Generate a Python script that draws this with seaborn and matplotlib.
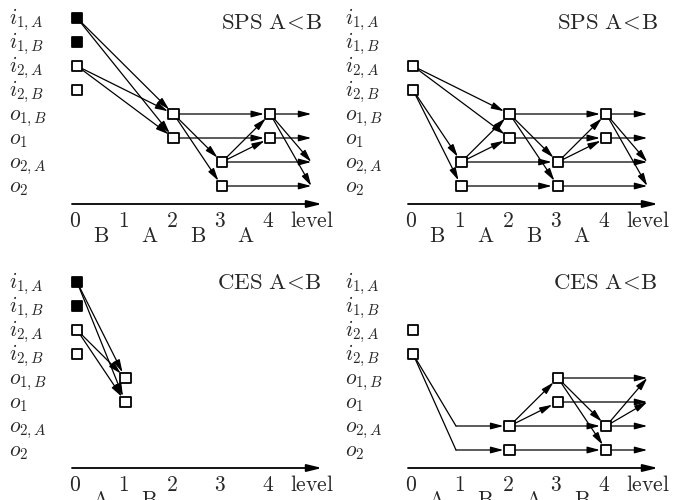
import pandas as pd
import matplotlib
matplotlib.use("Agg")
import matplotlib.pyplot as plt
import seaborn as sns

# -----------------------------
# Style Settings
sns.set_style("white")
plt.rcParams['mathtext.fontset'] = 'cm'

# -----------------------------
# Diagram data (level, row); rows counted from the top
row_labels = [r"i_{1,A}", r"i_{1,B}", r"i_{2,A}", r"i_{2,B}",
              r"o_{1,B}", r"o_1", r"o_{2,A}", r"o_2"]
END = 4.85  # open arrow ends right of level 4

titles = ["SPS", "SPS", "CES", "CES"]
step_letters = [["B", "A", "B", "A"],
                ["B", "A", "B", "A"],
                ["A", "B", "", ""],
                ["A", "B", "A", "B"]]

nodes_tl = [(0, 0, 1), (0, 1, 1), (0, 2, 0), (0, 3, 0), (2, 4, 0), (2, 5, 0),
            (3, 6, 0), (3, 7, 0), (4, 4, 0), (4, 5, 0)]
edges_tl = [((0, 0), (2, 4)), ((0, 0), (2, 5)), ((0, 2), (2, 4)), ((0, 2), (2, 5)),
            ((2, 4), (4, 4)), ((2, 4), (3, 6)), ((2, 4), (3, 7)), ((2, 5), (4, 5)),
            ((3, 6), (4, 4)), ((3, 6), (4, 5)), ((3, 6), (END, 6)), ((3, 7), (END, 7)),
            ((4, 4), (END, 4)), ((4, 4), (END, 6)), ((4, 4), (END, 7)), ((4, 5), (END, 5))]

nodes_tr = [(0, 2, 0), (0, 3, 0), (1, 6, 0), (1, 7, 0), (2, 4, 0), (2, 5, 0),
            (3, 6, 0), (3, 7, 0), (4, 4, 0), (4, 5, 0)]
edges_tr = [((0, 2), (2, 4)), ((0, 2), (2, 5)), ((0, 3), (1, 6)), ((0, 3), (1, 7)),
            ((1, 6), (2, 4)), ((1, 6), (2, 5)), ((1, 6), (3, 6)), ((1, 7), (3, 7)),
            ((2, 4), (4, 4)), ((2, 4), (3, 6)), ((2, 4), (3, 7)), ((2, 5), (4, 5)),
            ((3, 6), (4, 4)), ((3, 6), (4, 5)), ((3, 6), (END, 6)), ((3, 7), (END, 7)),
            ((4, 4), (END, 4)), ((4, 4), (END, 6)), ((4, 4), (END, 7)), ((4, 5), (END, 5))]

nodes_bl = [(0, 0, 1), (0, 1, 1), (0, 2, 0), (0, 3, 0), (1, 4, 0), (1, 5, 0)]
edges_bl = [((0, 0), (1, 4)), ((0, 0), (1, 5)), ((0, 2), (1, 4)), ((0, 2), (1, 5))]

nodes_br = [(0, 2, 0), (0, 3, 0), (2, 6, 0), (2, 7, 0), (3, 4, 0), (3, 5, 0),
            (4, 6, 0), (4, 7, 0)]
bends_br = [((0, 3), (0.89, 6)), ((0, 3), (0.89, 7))]
edges_br = [((0.89, 6), (2, 6)), ((0.89, 7), (2, 7)),
            ((2, 6), (3, 4)), ((2, 6), (3, 5)), ((2, 6), (4, 6)), ((2, 7), (4, 7)),
            ((3, 4), (END, 4)), ((3, 4), (4, 6)), ((3, 4), (4, 7)), ((3, 5), (END, 5)),
            ((4, 6), (END, 4)), ((4, 6), (END, 5)), ((4, 6), (END, 6)), ((4, 7), (END, 7))]

panels = [(nodes_tl, edges_tl, []), (nodes_tr, edges_tr, []),
          (nodes_bl, edges_bl, []), (nodes_br, edges_br, bends_br)]
title_rows = [0.42, 0.42, 0.29, 0.29]

# -----------------------------
# Figure: four panels, 673x500 px
W, H = 673, 500
fig = plt.figure(figsize=(W / 100, H / 100), dpi=100)
origins = [(0, 0), (336, 0), (0, 264), (336, 264)]
PW, PH = 336, 250
X0, DX, Y0, DY = 77, 48.3, 18, 24

for k, (ox, oy) in enumerate(origins):
    nodes, edges, bends = panels[k]
    ax = fig.add_axes([ox / W, 1 - (oy + PH) / H, PW / W, PH / H])
    ax.set_xlim(-X0 / DX, (PW - X0) / DX)
    ax.set_ylim((PH - Y0) / DY, -Y0 / DY)
    ax.axis("off")

    # row labels
    for r, lab in enumerate(row_labels):
        ax.text((9 - X0) / DX, r + 0.25, "$" + lab + "$", fontsize=15.5,
                ha="left", va="baseline")

    # level axis with arrow
    ax.annotate("", xy=(5.072, 7.75), xytext=(-0.1035, 7.75),
                arrowprops=dict(arrowstyle="-|>,head_length=0.9,head_width=0.22",
                                lw=1.3, color="black", shrinkA=0, shrinkB=0))
    for lv in range(5):
        ax.text(lv - 0.04, 8.71, f"${lv}$", fontsize=15.5, ha="center", va="baseline")
    for lv, let in enumerate(step_letters[k]):
        if let:
            ax.text(lv + 0.5, 9.33, r"$\mathrm{" + let + "}$", fontsize=15.5,
                    ha="center", va="baseline")
    ax.text(4.41, 8.71, r"$\mathrm{level}$", fontsize=15.5, ha="left", va="baseline")
    ax.text(5.072, title_rows[k],
            r"$\mathrm{" + titles[k] + r"\ A}\!<\!\mathrm{B}$",
            fontsize=16.5, ha="right", va="baseline")

    # plain segments (bends)
    for (a, b) in bends:
        ax.plot([a[0], b[0]], [a[1], b[1]], color="black", lw=0.9, zorder=1)

    # arrows
    for (a, b) in edges:
        src_box = any(n[0] == a[0] and n[1] == a[1] for n in nodes)
        dst_box = any(n[0] == b[0] and n[1] == b[1] for n in nodes)
        ax.annotate("", xy=b, xytext=a,
                    arrowprops=dict(arrowstyle="-|>,head_length=0.75,head_width=0.2",
                                    lw=0.9, color="black",
                                    shrinkA=4 if src_box else 0,
                                    shrinkB=4.5 if dst_box else 0),
                    zorder=2)

    # nodes
    df = pd.DataFrame(nodes, columns=["level", "row", "filled"])
    sns.scatterplot(data=df, x="level", y="row", hue="filled",
                    palette={0: "white", 1: "black"}, marker="s", s=58,
                    edgecolor="black", linewidth=1.3, legend=False, ax=ax,
                    zorder=3)
    ax.set_xlabel("")
    ax.set_ylabel("")

plt.savefig("out.png", dpi=100)
